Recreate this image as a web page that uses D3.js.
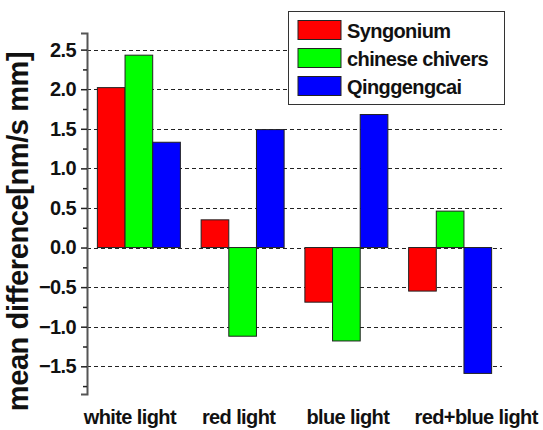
<!DOCTYPE html>
<html>
<head>
<meta charset="utf-8">
<script src="https://cdn.jsdelivr.net/npm/d3@7"></script>
<style>
  html, body { margin: 0; padding: 0; background: #fff; }
  svg { display: block; font-family: "Liberation Sans", Arial, sans-serif; font-weight: bold; }
</style>
</head>
<body>
<script>
// Light treatments (x categories)
const categories = ["white light", "red light", "blue light", "red+blue light"];
// Plant series
const seriesNames = ["Syngonium", "chinese chivers", "Qinggengcai"];
const seriesColors = ["#ff0000", "#00ff00", "#0000ff"];
// Mean difference per series, one value per category
const syngonium = [2.02, 0.35, -0.69, -0.55];
const chineseChivers = [2.43, -1.12, -1.18, 0.46];
const qinggengcai = [1.33, 1.49, 1.68, -1.59];
// Y axis tick values
const majorTicks = [-1.5, -1.0, -0.5, 0.0, 0.5, 1.0, 1.5, 2.0, 2.5];
const minorTicks = [-1.75, -1.25, -0.75, -0.25, 0.25, 0.75, 1.25, 1.75, 2.25];

const seriesValues = [syngonium, chineseChivers, qinggengcai];

(function draw() {
  const W = 543, H = 430;
  const plotL = 87, plotR = 502, plotT = 33, plotB = 394;
  const textColor = "#111";

  const svg = d3.select("body").append("svg").attr("width", W).attr("height", H);

  const x = d3.scaleBand().domain(categories).range([plotL, plotR])
    .paddingInner(0.2).paddingOuter(0.1);
  const xs = d3.scaleBand().domain(seriesNames).range([0, x.bandwidth()]);
  const y = d3.scaleLinear().domain([-1.85, 2.71]).range([plotB, plotT]);

  // dashed grid at major ticks
  svg.append("g").selectAll("line").data(majorTicks).join("line")
    .attr("x1", plotL).attr("x2", plotR)
    .attr("y1", d => Math.round(y(d)) + 0.5).attr("y2", d => Math.round(y(d)) + 0.5)
    .attr("stroke", "#222").attr("stroke-width", 1).attr("stroke-dasharray", "4,3");

  // bars
  const groups = svg.append("g").selectAll("g").data(categories).join("g")
    .attr("transform", d => `translate(${x(d)},0)`);
  groups.selectAll("rect")
    .data((c, ci) => seriesNames.map((s, si) => ({ s, si, v: seriesValues[si][ci] })))
    .join("rect")
    .attr("x", d => xs(d.s))
    .attr("width", xs.bandwidth())
    .attr("y", d => y(Math.max(0, d.v)))
    .attr("height", d => Math.abs(y(d.v) - y(0)))
    .attr("fill", d => seriesColors[d.si])
    .attr("stroke", "#222").attr("stroke-width", 1);

  // left axis with major ticks
  const yAxis = d3.axisLeft(y).tickValues(majorTicks).tickFormat(d3.format(".1f"))
    .tickSize(6).tickPadding(5);
  const ga = svg.append("g").attr("transform", `translate(${plotL},0)`).call(yAxis);
  ga.select(".domain").attr("stroke", "#555").attr("stroke-width", 2);
  ga.selectAll(".tick line").attr("stroke", "#222").attr("stroke-width", 1.5);
  ga.selectAll(".tick text").attr("font-size", 20).attr("font-weight", "bold")
    .attr("font-family", "'Liberation Sans', Arial, sans-serif").attr("fill", textColor)
    .attr("letter-spacing", "-0.6px");

  // minor ticks
  const minorAxis = d3.axisLeft(y).tickValues(minorTicks).tickSize(4).tickFormat("");
  const gm = svg.append("g").attr("transform", `translate(${plotL},0)`).call(minorAxis);
  gm.select(".domain").remove();
  gm.selectAll(".tick line").attr("stroke", "#222").attr("stroke-width", 1.5);

  // category labels under the plot
  const labelShift = [-9, -4, 1.5, 26];
  svg.append("g").selectAll("text").data(categories).join("text")
    .attr("x", (d, i) => x(d) + x.bandwidth() / 2 + labelShift[i])
    .attr("y", 424)
    .attr("text-anchor", "middle")
    .attr("font-size", 20).attr("fill", textColor).attr("letter-spacing", "-0.6px")
    .text(d => d);

  // y axis title
  svg.append("text")
    .attr("transform", "translate(28,231.5) rotate(-90)")
    .attr("text-anchor", "middle")
    .attr("font-size", 29).attr("fill", textColor).attr("letter-spacing", "-0.4px")
    .text("mean difference[nm/s mm]");

  // legend
  const lg = svg.append("g");
  lg.append("rect").attr("x", 288.5).attr("y", 11.5).attr("width", 216).attr("height", 93)
    .attr("fill", "#fff").attr("stroke", "#333").attr("stroke-width", 1);
  const items = lg.selectAll("g").data(seriesNames).join("g")
    .attr("transform", (d, i) => `translate(298,${20.5 + i * 28})`);
  items.append("rect").attr("width", 43).attr("height", 19)
    .attr("fill", (d, i) => seriesColors[i]).attr("stroke", "#222").attr("stroke-width", 1);
  items.append("text").attr("x", 49).attr("y", 17.5)
    .attr("font-size", 20).attr("fill", textColor).attr("letter-spacing", "-0.6px")
    .text(d => d);
})();
</script>
</body>
</html>
